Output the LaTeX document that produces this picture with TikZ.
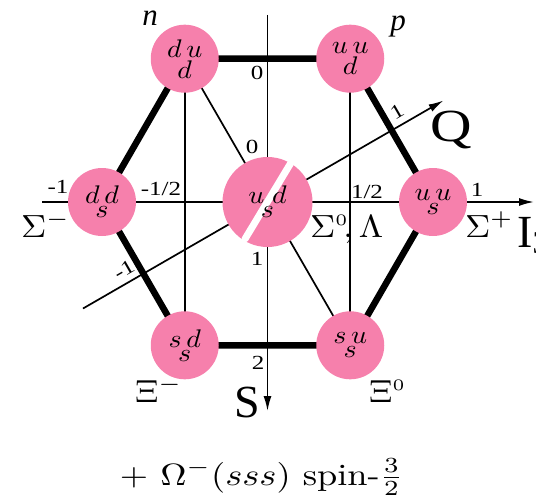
\RequirePackage{fix-cm}
\documentclass[tikz,border=0pt]{standalone}
\usepackage{fontspec}
\newfontfamily\labfont{Liberation Serif}
\usetikzlibrary{arrows.meta}
\definecolor{quarkpink}{RGB}{246,128,172}
\newcommand\qk[3][1.25pt]{\scalebox{2.8}[2.55]{\vbox{\offinterlineskip\halign{\hfil##\hfil\cr$#2$\cr\noalign{\vskip#1}$#3$\cr}}}}
\newcommand\widen[1]{\scalebox{1.25}[1]{#1}}
\newcommand\gk[1]{\scalebox{3.5}[3.2]{$#1$}}
\begin{document}
\begin{tikzpicture}[x=1pt,y=-1pt,
  baryon/.style={circle,fill=quarkpink,minimum size=68pt,inner sep=0pt},
  bigbaryon/.style={baryon,minimum size=90pt},
  quarktext/.style={inner sep=0pt},
  edgeline/.style={line width=6.5pt},
  gridline/.style={line width=1.7pt},
  axisline/.style={line width=1.7pt,-{Latex[length=15pt,width=8pt]}},
  num/.style={font=\labfont\fontsize{20}{20}\selectfont,inner sep=0pt},
  greek/.style={inner sep=0pt},
  axislabel/.style={font=\labfont\fontsize{46}{46}\selectfont,inner sep=0pt},
  namelabel/.style={font=\labfont\itshape\fontsize{31}{31}\selectfont,inner sep=0pt},
  ]
\useasboundingbox (0,0) rectangle (536,503);
% centres
\coordinate (c) at (267.5,202);
\coordinate (n) at (184.75,58.7);
\coordinate (p) at (350.25,58.7);
\coordinate (sm) at (102,202);
\coordinate (sp) at (433,202);
\coordinate (xm) at (184.75,345.3);
\coordinate (xz) at (350.25,345.3);
% axis ends
\coordinate (iL) at (42,202);
\coordinate (iR) at (534,202);
\coordinate (sT) at (267.5,15);
\coordinate (sB) at (267.5,411);
\coordinate (qL) at (83,308.5);
\coordinate (qR) at (443.5,100.5);
% thin lines
\draw[gridline] (n) -- (xm);
\draw[gridline] (p) -- (xz);
\draw[gridline] (n) -- (xz);
% axes
\draw[axisline] (iL) -- (iR);
\draw[axisline] (sT) -- (sB);
\draw[axisline] (qL) -- (qR);
% hexagon
\draw[edgeline] (n) -- (p) -- (sp) -- (xz) -- (xm) -- (sm) -- cycle;
% baryons
\node[baryon] (N) at (n) {\qk{d\,u}{d}};
\node[baryon] (P) at (p) {\qk{u\,u}{d}};
\node[baryon] (SM) at (sm) {\qk{d\,d}{s}};
\node[baryon] (SP) at (sp) {\qk{u\,u}{s}};
\node[baryon] (XM) at (xm) {\qk{s\,d}{s}};
\node[baryon] (XZ) at (xz) {\qk{s\,u}{s}};
\node[bigbaryon] (C) at (c) {};
\draw[white,line width=7pt,line cap=round] (245,239) -- (292,161);
\node[quarktext] (CT) at (c) {\qk{u\;d}{s}};
% particle names
\node[namelabel] (nl) at (150,18) {n};
\node[namelabel] (pl) at (398,26) {p};
\node[greek,anchor=base west] (lsm) at (21,237) {\gk{\Sigma^-}};
\node[greek,anchor=base west] (lsz) at (310,237) {\gk{\Sigma^{\scriptscriptstyle 0}\!,\Lambda}};
\node[greek,anchor=base west] (lsp) at (465,237) {\gk{\Sigma^+}};
\node[greek,anchor=base west] (lxm) at (135,402) {\gk{\Xi^-}};
\node[greek,anchor=base west] (lxz) at (369,402) {\gk{\Xi^{\scriptscriptstyle 0}}};
% axis names
\node[axislabel,anchor=base west] (lI) at (517,247) {I\textsubscript{3}};
\node[axislabel,anchor=base] (lQ) at (451,142) {\widen{Q}};
\node[axislabel,anchor=base] (lS) at (247,417) {S};
% numbers
\node[num] (z1) at (257,73) {\widen{0}};
\node[num] (z2) at (252,147) {\widen{0}};
\node[num] (m1) at (58,187) {\widen{-1}};
\node[num] (mh) at (161,189) {\widen{-1/2}};
\node[num] (ph) at (367,192) {\widen{1/2}};
\node[num] (p1) at (477,190) {\widen{1}};
\node[num] (s1) at (257,259) {\widen{1}};
\node[num] (s2) at (258,363) {\widen{2}};
\node[num,rotate=30] (q1) at (397,112) {\widen{1}};
\node[num,rotate=30] (qm) at (124,270) {\widen{-1}};
% bottom line
\node[anchor=base,inner sep=0pt] (omega) at (261.5,485) {\resizebox{283pt}{26pt}{$+\ \Omega^-(sss)$\ spin-$\frac{3}{2}$}};
\end{tikzpicture}
\end{document}
